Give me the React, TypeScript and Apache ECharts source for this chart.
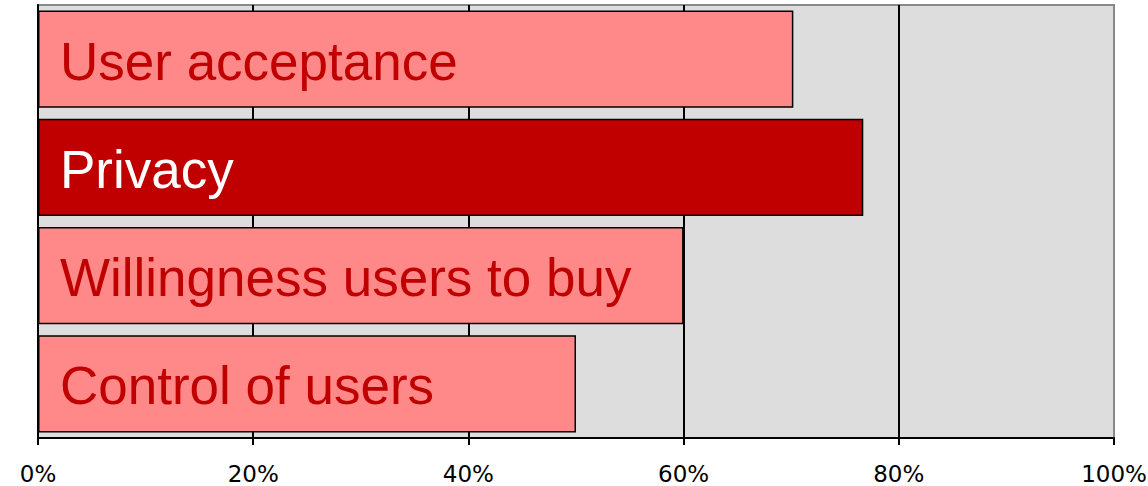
import React, { useEffect, useRef } from "react";
import * as echarts from "echarts";

const categories = ["User acceptance", "Privacy", "Willingness users to buy", "Control of users"];
const values = [70.2, 76.7, 60, 50];
const highlighted = [false, true, false, false];
const tickValues = [0, 20, 40, 60, 80, 100];

export default function App() {
  const ref = useRef<HTMLDivElement>(null);
  useEffect(() => {
    if (!ref.current) return;
    const chart = echarts.init(ref.current, null, { renderer: "svg" });
    chart.setOption({
      animation: false,
      grid: {
        left: 38,
        right: 34,
        top: 5,
        bottom: 48,
        outerBoundsMode: "none",
        containLabel: false,
        show: true,
        backgroundColor: "#DDDDDD",
        borderColor: "#888888",
        borderWidth: 2,
      },
      xAxis: {
        type: "value",
        min: 0,
        max: 100,
        interval: 20,
        axisLine: { show: true, lineStyle: { color: "#000", width: 2 } },
        axisTick: { show: true, length: 7, lineStyle: { color: "#000", width: 2 } },
        axisLabel: {
          formatter: (v: number) => (tickValues.includes(v) ? v + "%" : ""),
          fontFamily: "'DejaVu Sans', Verdana, sans-serif",
          fontSize: 23,
          lineHeight: 23,
          color: "#000",
          margin: 24,
        },
        splitLine: {
          show: true,
          lineStyle: { color: ["#000", "#000", "#000", "#000", "#000", "#888"], width: 2 },
        },
      },
      yAxis: {
        type: "category",
        data: categories,
        inverse: true,
        axisLine: { show: true, lineStyle: { color: "#000", width: 2 } },
        axisTick: { show: false },
        axisLabel: { show: false },
        splitLine: { show: false },
      },
      series: [
        {
          type: "bar",
          barCategoryGap: "10%",
          data: values.map((v, i) => ({
            value: v,
            itemStyle: {
              color: highlighted[i] ? "#C00000" : "#FF8888",
              borderColor: "#000",
              borderWidth: 1.5,
            },
            label: {
              show: true,
              position: "insideLeft",
              offset: [17, 2],
              formatter: categories[i],
              color: highlighted[i] ? "#FFFFFF" : "#C00000",
              fontFamily: "'Liberation Sans', Arial, sans-serif",
              fontSize: 53,
            },
          })),
        },
      ],
    });
    return () => chart.dispose();
  }, []);
  return (
    <div
      ref={ref}
      style={{ position: "absolute", left: 0, top: 0, width: 1148, height: 486 }}
    />
  );
}
